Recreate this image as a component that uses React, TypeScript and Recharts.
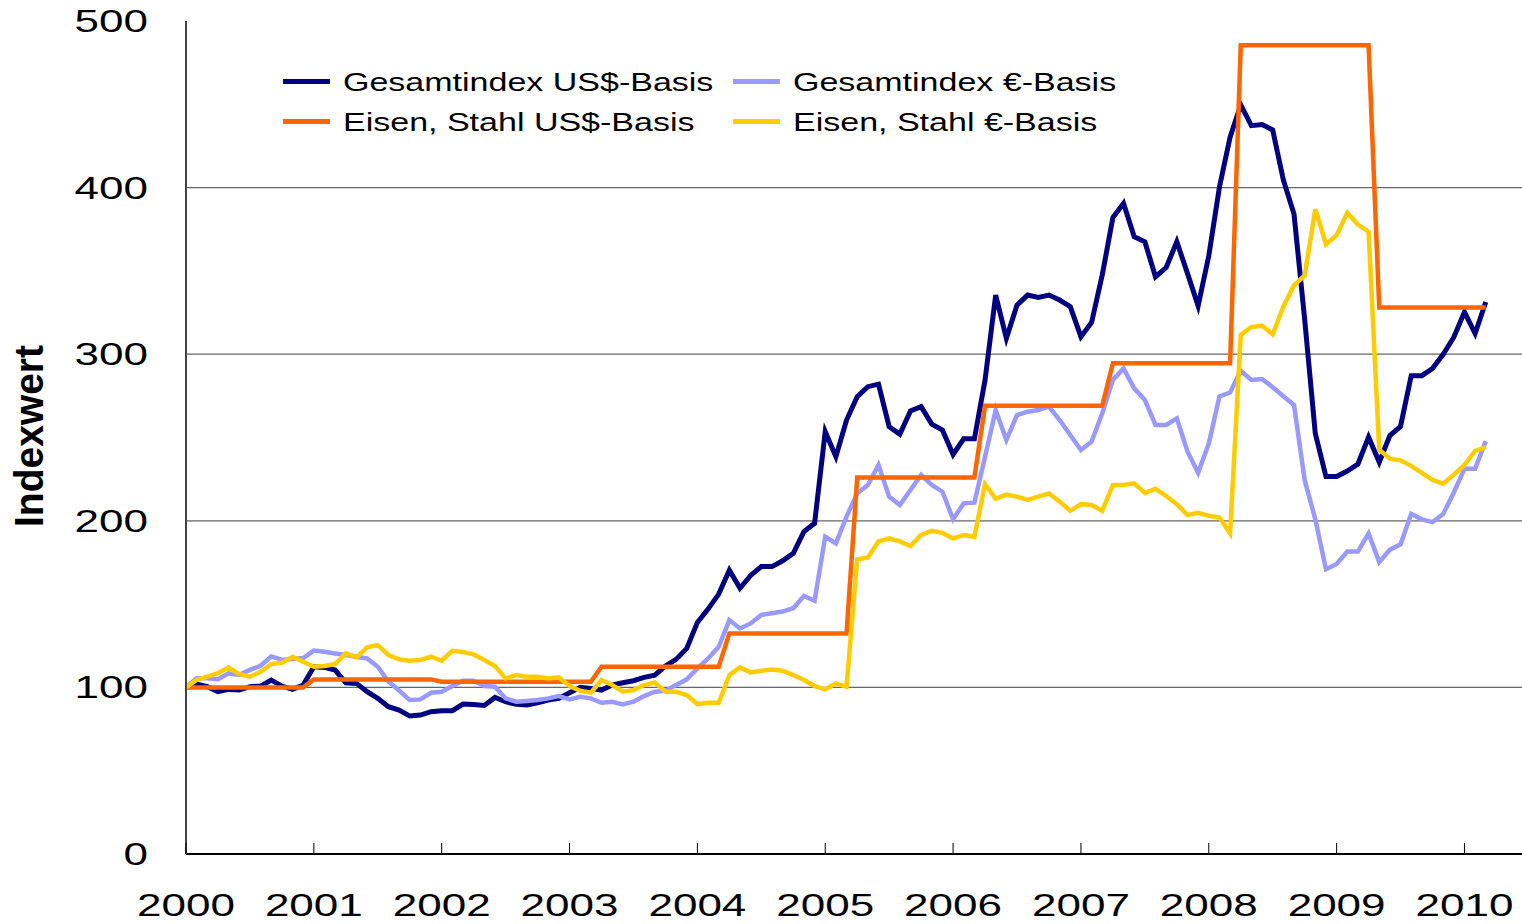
import { LineChart, Line, XAxis, YAxis, CartesianGrid } from 'recharts';

// monthly index values, Jan 2000 .. Mar 2010 (one row per year)
const years = ['2000', '2001', '2002', '2003', '2004', '2005', '2006', '2007', '2008', '2009', '2010'];

const usdTotal = [
  100, 102, 100.4, 97.4, 98.8, 98.4, 100.4, 100.8, 104.4, 100.8, 98.8, 101.4,
  112.4, 112, 110.4, 102.8, 102.4, 97.4, 93.4, 88.4, 86.4, 82.8, 83.4, 85.4,
  86, 86, 90, 89.8, 89.2, 94, 91.4, 89.8, 89.4, 90.8, 92.4, 93.4,
  96.8, 100, 99.4, 98.4, 101.4, 102.8, 104, 106, 107.4, 112.8, 116.8, 123.4,
  139, 147, 156, 170.3, 159.5, 167.2, 172.5, 172.5, 176, 180.5, 193.5, 198.5,
  253.5, 238.5, 260.5, 274.5, 280.5, 282, 256.5, 252, 266, 268.5, 258, 254.5,
  239.8, 249.2, 249.2, 284.5, 335.5, 309.5, 329.5, 335.5, 334, 335.5, 332.5, 328.5,
  310.5, 319, 347.5, 382, 390.5, 370.5, 367.5, 346.5, 352, 367.5, 348.5, 329,
  359, 400.3, 430.3, 449.6, 437.2, 437.8, 434.6, 404.6, 384.2, 321, 252.3, 226.6,
  226.6, 229.9, 234.1, 250.2, 235.2, 251.2, 256.7, 287.1, 287.1, 291.4, 299.9, 310.2,
  325.3, 312.4, 331.3,
];

const eurTotal = [
  100, 105.5, 105.5, 104.9, 108.5, 107.5, 110.5, 113, 118.6, 116.6, 117, 117.6,
  122.1, 121.4, 120.4, 119.4, 118.4, 117.4, 112.4, 103.5, 98.1, 92.4, 92.8, 96.8,
  97.4, 100.8, 104, 104, 100.8, 100.4, 93.4, 91.4, 91.9, 92.4, 93.4, 94.8,
  92.8, 94.4, 93.4, 90.8, 91.4, 89.8, 91.4, 94.8, 97.4, 98, 101.4, 104.8,
  111.4, 117.4, 124.4, 140.4, 135.4, 138.4, 143.5, 144.5, 145.5, 147.5, 154.9, 152,
  190.5, 186.5, 202.5, 216.5, 221.5, 233.5, 214.5, 209.5, 218.5, 227.5, 221.5, 217.5,
  201, 210.5, 210.9, 238.5, 266.5, 248.5, 263.5, 265.5, 266.5, 268.5, 260.5, 251.5,
  242.5, 247.5, 264.5, 284.5, 291.5, 279.5, 272.5, 257.5, 257.5, 261.5, 241.6, 228.8,
  246.4, 274.6, 277, 290, 284.5, 285.1, 280.2, 274.8, 269.5, 224.5, 200.9, 170.9,
  174.1, 181.6, 181.6, 192.4, 175.2, 182.7, 185.9, 204.1, 200.9, 199.2, 204.1, 217,
  231.3, 231.3, 247.8,
];

const usdSteel = [
  100, 100, 100, 100, 100, 100, 100, 100, 100, 100, 100, 100,
  104.8, 104.8, 104.8, 104.8, 104.8, 104.8, 104.8, 104.8, 104.8, 104.8, 104.8, 104.8,
  103.4, 103.4, 103.4, 103.4, 103.4, 103.4, 103.4, 103.4, 103.4, 103.4, 103.4, 103.4,
  103.4, 103.4, 103.4, 112.4, 112.4, 112.4, 112.4, 112.4, 112.4, 112.4, 112.4, 112.4,
  112.4, 112.4, 112.4, 132.4, 132.4, 132.4, 132.4, 132.4, 132.4, 132.4, 132.4, 132.4,
  132.4, 132.4, 132.4, 226, 226, 226, 226, 226, 226, 226, 226, 226,
  226, 226, 226, 269, 269, 269, 269, 269, 269, 269, 269, 269,
  269, 269, 269, 294.5, 294.5, 294.5, 294.5, 294.5, 294.5, 294.5, 294.5, 294.5,
  294.5, 294.5, 294.5, 485.5, 485.5, 485.5, 485.5, 485.5, 485.5, 485.5, 485.5, 485.5,
  485.5, 485.5, 485.5, 485.5, 328, 328, 328, 328, 328, 328, 328, 328,
  328, 328, 328,
];

const eurSteel = [
  100, 104.5, 106.5, 108.5, 112, 108, 106.4, 109.4, 114, 114.8, 118.4, 115.4,
  112.4, 112.8, 114, 120.4, 118, 124, 125.4, 119.4, 116.8, 116, 116.4, 118.4,
  116, 122, 121.2, 119.8, 116.4, 112.8, 105.4, 107.4, 106.4, 106.4, 105.4, 106,
  100.8, 98, 96.8, 104.4, 101.4, 97.4, 98.4, 101.4, 103, 97.4, 97.4, 95.4,
  90, 90.8, 90.8, 107.4, 112, 109, 110, 110.8, 110, 107.4, 104.4, 100.8,
  98.8, 102.4, 100.4, 176.8, 178, 187.6, 189.4, 187.6, 184.9, 191.5, 194, 192.8,
  189.4, 191.5, 190.4, 222, 213.2, 215.7, 214.5, 212.5, 214.5, 216.4, 211.5, 206,
  210, 209.5, 206, 221.5, 221.5, 222.5, 216.8, 219.2, 214.9, 210, 203.5, 204.8,
  203, 202, 192.6, 311.5, 316.3, 317.1, 312, 328.5, 341.4, 347.2, 387, 366,
  371.4, 384.8, 377.8, 373.5, 242.7, 237.3, 236.3, 233, 228.8, 224.5, 222.3, 227.7,
  233.5, 242, 244.2,
];

const seriesNames = [
  'Gesamtindex US$-Basis',
  'Gesamtindex €-Basis',
  'Eisen, Stahl US$-Basis',
  'Eisen, Stahl €-Basis',
];

const COLORS = ['#000080', '#9999FF', '#FF6600', '#FFCC00'];

const data = usdTotal.map((v, i) => ({
  m: i,
  usdTotal: v,
  eurTotal: eurTotal[i],
  usdSteel: usdSteel[i],
  eurSteel: eurSteel[i],
}));

const FONT = '"Liberation Sans", Arial, sans-serif';
const STRETCH = 1.42;

function XTick({ x, y, payload }: any) {
  return (
    <g>
      <line x1={x} x2={x} y1={y - 11} y2={y} stroke="#000" strokeWidth={1} />
      <text
        transform={`translate(${x},${y + 62}) scale(${STRETCH},1)`}
        textAnchor="middle"
        fontFamily={FONT}
        fontSize={31}
        fill="#000"
      >
        {years[Math.round(payload.value / 12)]}
      </text>
    </g>
  );
}

function YTick({ y, payload }: any) {
  return (
    <text
      transform={`translate(148,${y + 11}) scale(${STRETCH},1)`}
      textAnchor="end"
      fontFamily={FONT}
      fontSize={31}
      fill="#000"
    >
      {payload.value}
    </text>
  );
}

function LegendOverlay() {
  const rows = [
    { top: 82, items: [0, 1] },
    { top: 122, items: [2, 3] },
  ];
  const cols = [283, 733];
  return (
    <>
      {rows.map((row) =>
        row.items.map((idx, c) => (
          <div key={idx}>
            <div
              style={{
                position: 'absolute',
                left: cols[c],
                top: row.top - 3,
                width: 47,
                height: 5,
                background: COLORS[idx],
              }}
            />
            <div
              style={{
                position: 'absolute',
                left: cols[c] + 60,
                top: row.top - 12,
                fontFamily: FONT,
                fontSize: 25,
                lineHeight: '25px',
                whiteSpace: 'nowrap',
                color: '#000',
                transform: `scaleX(${STRETCH - 0.06})`,
                transformOrigin: 'left center',
              }}
            >
              {seriesNames[idx]}
            </div>
          </div>
        ))
      )}
    </>
  );
}

export default function App() {
  return (
    <div
      style={{
        position: 'fixed',
        left: 0,
        top: 0,
        width: 1522,
        height: 924,
        background: '#fff',
        overflow: 'hidden',
      }}
    >
      <LineChart
        width={1522}
        height={924}
        data={data}
        margin={{ top: 21, right: 0, bottom: 0, left: 0 }}
      >
        <CartesianGrid
          vertical={false}
          horizontalValues={[100, 200, 300, 400]}
          stroke="#666"
          strokeWidth={1.3}
        />
        <XAxis
          dataKey="m"
          type="number"
          domain={[0, 125.4]}
          ticks={[0, 12, 24, 36, 48, 60, 72, 84, 96, 108, 120]}
          height={70}
          tickSize={0}
          tickMargin={0}
          tickLine={false}
          axisLine={{ stroke: '#000', strokeWidth: 2 }}
          tick={<XTick />}
          interval={0}
        />
        <YAxis
          type="number"
          domain={[0, 500]}
          ticks={[0, 100, 200, 300, 400, 500]}
          width={186}
          tickSize={0}
          tickMargin={0}
          tickLine={false}
          axisLine={{ stroke: '#444', strokeWidth: 2 }}
          tick={<YTick />}
          interval={0}
        />
        <Line dataKey="usdTotal" stroke={COLORS[0]} strokeWidth={5} dot={false} isAnimationActive={false} type="linear" />
        <Line dataKey="eurTotal" stroke={COLORS[1]} strokeWidth={4.5} dot={false} isAnimationActive={false} type="linear" />
        <Line dataKey="usdSteel" stroke={COLORS[2]} strokeWidth={4.5} dot={false} isAnimationActive={false} type="linear" />
        <Line dataKey="eurSteel" stroke={COLORS[3]} strokeWidth={4.5} dot={false} isAnimationActive={false} type="linear" />
        <text
          transform="translate(43,436) rotate(-90)"
          textAnchor="middle"
          fontFamily={FONT}
          fontWeight="bold"
          fontSize={40}
          textLength={182}
          lengthAdjust="spacingAndGlyphs"
          fill="#000"
        >
          Indexwert
        </text>
      </LineChart>
      <LegendOverlay />
    </div>
  );
}
